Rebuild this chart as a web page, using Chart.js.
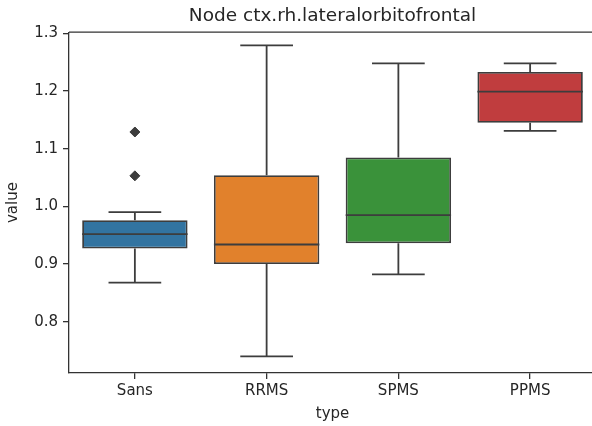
<!DOCTYPE html>
<html>
<head>
<meta charset="utf-8">
<script src="https://cdn.jsdelivr.net/npm/chart.js@4/dist/chart.umd.min.js"></script>
<style>
html,body{margin:0;padding:0;background:#fff;overflow:hidden;width:592px;height:426px;}
#wrap{position:relative;width:592px;height:426px;overflow:hidden;}
canvas{display:block;}
</style>
</head>
<body>
<div id="wrap"><canvas id="c" width="610" height="426"></canvas></div>
<script>
const categories = ['Sans', 'RRMS', 'SPMS', 'PPMS'];
const whiskerLow  = [0.868, 0.740, 0.882, 1.131];
const q1          = [0.927, 0.900, 0.936, 1.145];
const medians     = [0.952, 0.934, 0.985, 1.199];
const q3          = [0.976, 1.054, 1.085, 1.233];
const whiskerHigh = [0.990, 1.279, 1.248, 1.248];
const outliersA   = [1.129, null, null, null];
const outliersB   = [1.053, null, null, null];
const boxColors   = ['#3274a1', '#e1812c', '#3a923a', '#c03d3e'];
const yTicks      = [0.8, 0.9, 1.0, 1.1, 1.2, 1.3];
const titleText   = 'Node ctx.rh.lateralorbitofrontal';
const xTitle      = 'type';
const yTitle      = 'value';

const lineColor = '#3d3d3d';
const textColor = '#262626';
const FONT = 'DejaVu Sans';

const boxPlugin = {
  id: 'boxParts',
  afterDatasetsDraw(chart) {
    const {ctx, scales: {x, y}, chartArea} = chart;
    const meta = chart.getDatasetMeta(0);
    ctx.save();
    ctx.strokeStyle = lineColor;
    ctx.lineWidth = 1.8;
    categories.forEach((c, i) => {
      const bar = meta.data[i];
      const cx = x.getPixelForValue(i);
      const half = bar.width / 2;
      const capHalf = half / 2;
      const yl = y.getPixelForValue(whiskerLow[i]);
      const yq1 = y.getPixelForValue(q1[i]);
      const ym = y.getPixelForValue(medians[i]);
      const yq3 = y.getPixelForValue(q3[i]);
      const yh = y.getPixelForValue(whiskerHigh[i]);
      ctx.beginPath();
      ctx.moveTo(cx, yq1); ctx.lineTo(cx, yl);
      ctx.moveTo(cx - capHalf, yl); ctx.lineTo(cx + capHalf, yl);
      ctx.moveTo(cx, yq3); ctx.lineTo(cx, yh);
      ctx.moveTo(cx - capHalf, yh); ctx.lineTo(cx + capHalf, yh);
      ctx.moveTo(cx - half, ym); ctx.lineTo(cx + half, ym);
      ctx.stroke();
    });
    ctx.strokeStyle = '#333';
    ctx.lineWidth = 1.3;
    ctx.beginPath();
    ctx.moveTo(chartArea.left, chartArea.top);
    ctx.lineTo(chartArea.right, chartArea.top);
    ctx.lineTo(chartArea.right, chartArea.bottom);
    ctx.stroke();
    ctx.restore();
  }
};

new Chart(document.getElementById('c'), {
  type: 'bar',
  data: {
    labels: categories,
    datasets: [
      {
        data: categories.map((c, i) => [q1[i], q3[i]]),
        backgroundColor: boxColors,
        borderColor: lineColor,
        borderWidth: 1.8,
        borderSkipped: false,
        categoryPercentage: 0.8,
        barPercentage: 1.0,
        order: 2
      },
      {
        type: 'line',
        data: outliersA,
        showLine: false,
        pointStyle: 'rectRot',
        pointRadius: 5,
        pointBackgroundColor: lineColor,
        pointBorderColor: lineColor,
        order: 1
      },
      {
        type: 'line',
        data: outliersB,
        showLine: false,
        pointStyle: 'rectRot',
        pointRadius: 5,
        pointBackgroundColor: lineColor,
        pointBorderColor: lineColor,
        order: 1
      }
    ]
  },
  options: {
    responsive: false,
    animation: false,
    devicePixelRatio: 1,
    layout: {padding: {left: 0, right: 14, top: 0, bottom: 0}},
    plugins: {
      legend: {display: false},
      tooltip: {enabled: false},
      title: {
        display: true,
        fullSize: false,
        text: titleText,
        color: textColor,
        font: {family: FONT, size: 18.5, weight: 'normal'},
        padding: {top: 5, bottom: 5}
      }
    },
    scales: {
      x: {
        grid: {display: true, drawOnChartArea: false, drawTicks: true, tickLength: 6, offset: false, color: '#333', lineWidth: 1.3},
        border: {display: true, color: '#333', width: 1.3},
        ticks: {color: textColor, font: {family: FONT, size: 15}, padding: 3},
        title: {display: true, text: xTitle, color: textColor, font: {family: FONT, size: 15}, padding: {top: 2, bottom: 3}},
        afterFit(scale) { scale.height = 53; }
      },
      y: {
        min: 0.7112,
        max: 1.302,
        grid: {display: true, drawOnChartArea: false, drawTicks: true, tickLength: 6, color: '#333', lineWidth: 1.3},
        border: {display: true, color: '#333', width: 1.3},
        afterBuildTicks(scale) { scale.ticks = yTicks.map(v => ({value: v})); },
        ticks: {color: textColor, font: {family: FONT, size: 15}, padding: 5, callback: v => Number(v).toFixed(1)},
        title: {display: true, text: yTitle, color: textColor, font: {family: FONT, size: 15}, padding: {top: 4, bottom: 2}},
        afterFit(scale) { scale.width = 69; }
      }
    }
  },
  plugins: [boxPlugin]
});
</script>
</body>
</html>
